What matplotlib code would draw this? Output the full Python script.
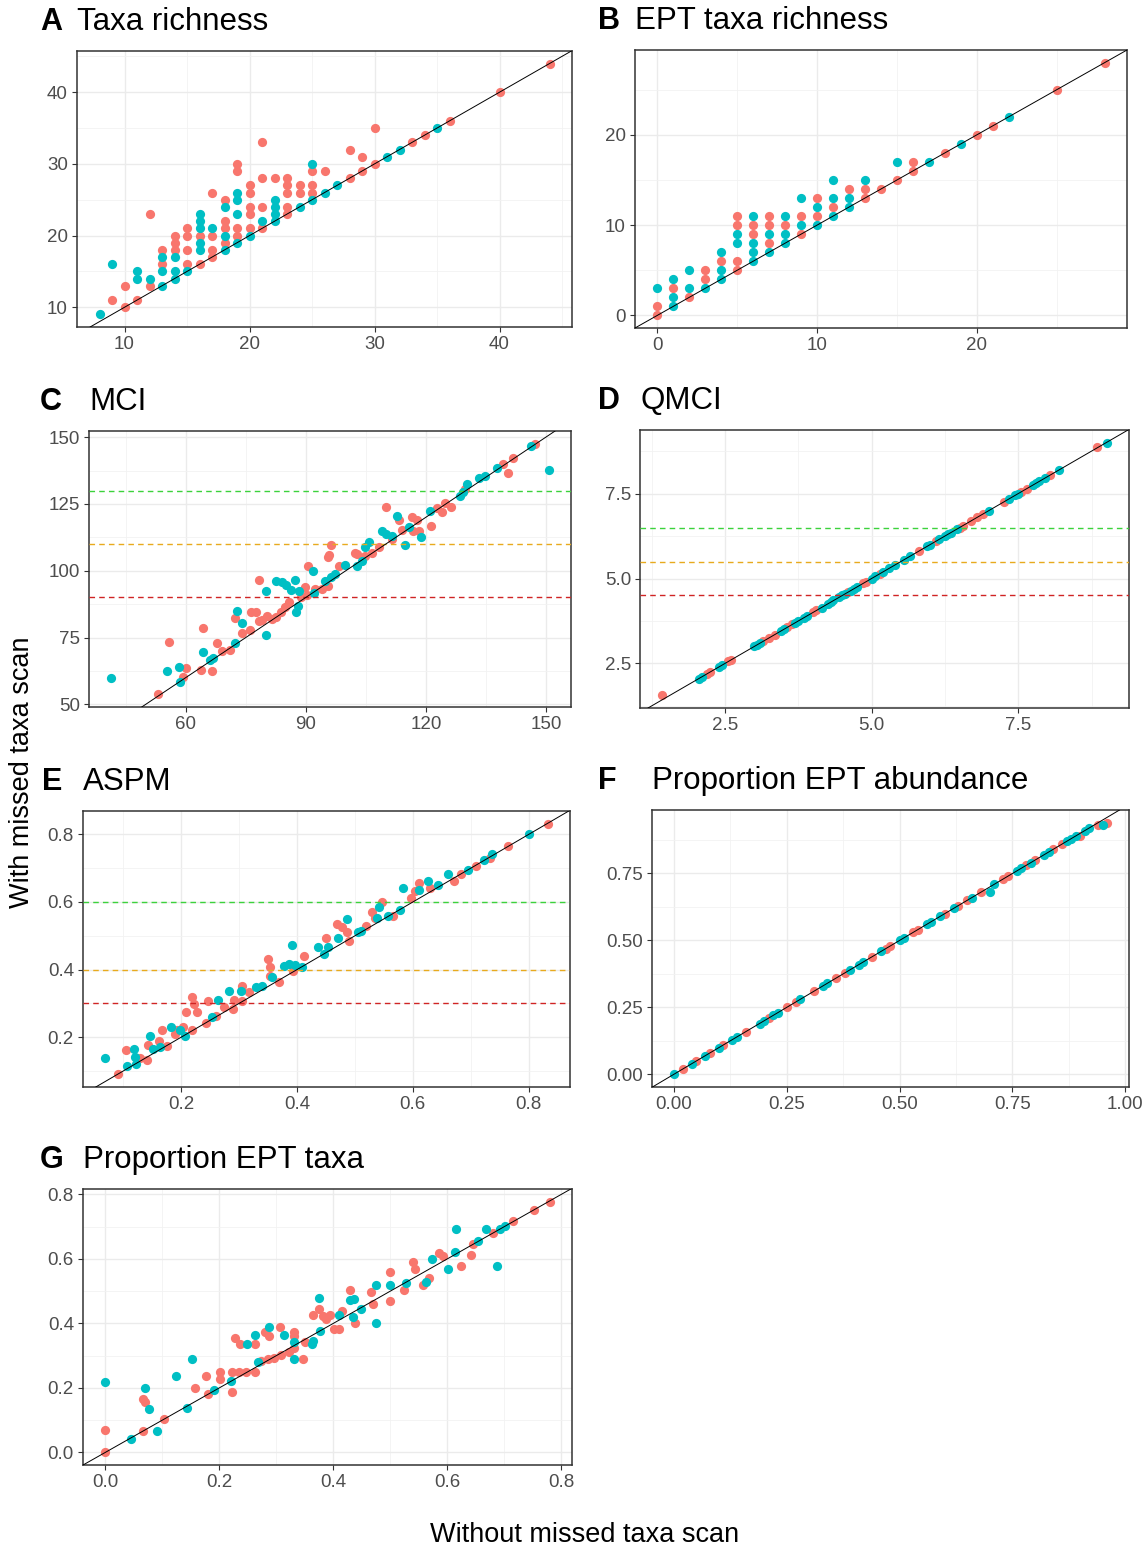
import matplotlib
matplotlib.use("Agg")
import matplotlib.pyplot as plt
from matplotlib.ticker import MultipleLocator, AutoMinorLocator, FormatStrFormatter

plt.rcParams['font.family'] = ['Liberation Sans', 'DejaVu Sans']

W, H = 1143, 1549
SALMON = '#F8766D'
TEAL = '#00BFC4'

# --- A: taxa richness (salmon = group 1, teal = group 2)
a_x1 = [9, 10, 10, 11, 12, 12, 13, 13, 14, 14, 14, 15, 15, 15, 15, 16, 16, 17, 17, 17, 17,
        18, 18, 18, 18, 19, 19, 19, 19, 20, 20, 20, 20, 20, 21, 21, 21, 21, 22, 23, 23, 23,
        23, 23, 24, 24, 25, 25, 25, 26, 28, 28, 29, 29, 30, 30, 33, 34, 36, 40, 44]
a_y1 = [11, 13, 10, 11, 13, 23, 18, 16, 20, 19, 18, 21, 20, 18, 16, 20, 16, 26, 20, 18, 17,
        25, 22, 21, 19, 30, 29, 21, 20, 27, 26, 24, 23, 21, 33, 28, 24, 21, 28, 28, 27, 26,
        24, 23, 27, 26, 29, 27, 26, 29, 32, 28, 31, 29, 35, 30, 33, 34, 36, 40, 44]
a_x2 = [8, 9, 11, 11, 12, 13, 13, 13, 14, 14, 14, 15, 16, 16, 16, 16, 16, 17, 18, 18, 18,
        19, 19, 19, 19, 20, 21, 22, 22, 22, 22, 24, 25, 25, 26, 27, 31, 32, 35]
a_y2 = [9, 16, 15, 14, 14, 17, 15, 13, 17, 15, 14, 15, 23, 22, 21, 19, 18, 21, 24, 20, 18,
        26, 25, 23, 19, 20, 22, 25, 24, 23, 22, 24, 30, 25, 26, 27, 31, 32, 35]

# --- B: EPT taxa richness
b_x1 = [0, 0, 1, 2, 3, 3, 4, 5, 5, 5, 5, 6, 6, 7, 7, 7, 8, 9, 9, 10, 10, 11, 12, 13, 13,
        14, 15, 16, 16, 18, 20, 21, 25, 28]
b_y1 = [1, 0, 3, 2, 5, 4, 6, 11, 10, 6, 5, 10, 9, 11, 10, 8, 10, 11, 9, 13, 11, 12, 14, 14, 13,
        14, 15, 17, 16, 18, 20, 21, 25, 28]
b_x2 = [0, 1, 1, 1, 2, 2, 3, 4, 4, 4, 5, 5, 6, 6, 6, 6, 7, 7, 8, 8, 8, 9, 9, 10, 10, 11, 11,
        11, 12, 12, 13, 15, 17, 19, 22]
b_y2 = [3, 4, 2, 1, 5, 3, 3, 7, 5, 4, 9, 8, 11, 8, 7, 6, 9, 7, 11, 9, 8, 13, 10, 12, 10, 15, 13,
        11, 13, 12, 15, 17, 17, 19, 22]

# --- C: MCI
c_x1 = [53.0, 55.7, 59.2, 60.0, 63.7, 64.4, 66.5, 67.9, 69.1, 71.0, 72.3, 74.0, 76.1, 76.2,
        77.5, 78.3, 78.3, 79.1, 80.4, 81.6, 82.6, 83.7, 84.9, 85.8, 88.7, 89.9, 90.3, 90.6,
        92.4, 94.1, 95.6, 95.7, 95.6, 96.4, 98.4, 102.2, 102.8, 104.9, 106.6, 108.2, 110.0,
        111.5, 113.4, 114.0, 116.5, 117.8, 116.9, 118.2, 121.3, 122.8, 124.0, 124.7, 126.3,
        129.8, 139.4, 140.5, 141.9, 147.3]
c_y1 = [53.7, 73.2, 60.1, 63.5, 62.9, 78.5, 62.4, 72.9, 69.9, 70.5, 82.3, 76.7, 78.0, 84.4,
        84.4, 96.6, 81.1, 81.6, 83.2, 81.9, 82.8, 84.4, 86.3, 88.2, 90.0, 94.1, 91.0, 101.9,
        93.2, 93.2, 94.4, 106.0, 105.0, 109.7, 101.9, 106.8, 106.2, 105.6, 106.8, 108.7, 123.9,
        111.8, 118.9, 115.2, 120.2, 118.9, 114.9, 114.9, 116.8, 123.4, 121.8, 125.5, 123.9,
        130.5, 140.1, 136.5, 142.1, 147.6]
c_x2 = [41.3, 55.2, 58.3, 58.5, 64.3, 66.0, 66.8, 72.2, 72.7, 74.0, 80.0, 80.1, 82.6, 84.1,
        85.1, 86.4, 87.4, 87.6, 88.1, 88.3, 91.8, 92.0, 94.9, 96.2, 97.4, 99.9, 102.8, 104.1,
        104.9, 105.7, 109.0, 110.0, 111.5, 112.9, 114.9, 115.8, 118.8, 121.1, 128.6, 129.4,
        130.2, 133.3, 134.8, 137.7, 146.3, 150.8]
c_y2 = [59.8, 62.4, 64.1, 58.3, 69.5, 66.6, 67.4, 72.9, 85.1, 80.6, 76.0, 92.3, 96.3, 95.6,
        94.6, 92.9, 96.6, 84.4, 86.9, 92.5, 100.0, 91.5, 96.3, 97.5, 98.8, 102.2, 101.6, 103.5,
        108.7, 110.6, 114.9, 113.9, 113.1, 120.3, 109.7, 116.4, 112.5, 122.2, 128.0, 129.3,
        132.6, 134.6, 135.5, 138.6, 146.5, 137.6]
c_lines = [130, 110, 90]

# --- D: QMCI
d_x1 = [1.43, 2.20, 2.25, 2.55, 2.60, 3.15, 3.25, 3.35, 3.55, 3.65, 4.00, 4.05, 4.60, 4.85,
        4.90, 5.15, 5.80, 6.10, 6.50, 6.55, 6.70, 6.80, 6.90, 7.25, 7.55, 7.65, 8.05, 8.85]
d_y1 = [1.56, 2.20, 2.24, 2.56, 2.60, 3.15, 3.26, 3.33, 3.56, 3.65, 4.00, 4.06, 4.60, 4.86,
        4.90, 5.14, 5.80, 6.10, 6.50, 6.56, 6.70, 6.80, 6.90, 7.24, 7.56, 7.64, 8.04, 8.86]
d_x2 = [2.05, 2.10, 2.40, 2.45, 3.00, 3.05, 3.10, 3.45, 3.50, 3.70, 3.75, 3.85, 3.90, 4.15,
        4.25, 4.30, 4.35, 4.45, 4.50, 4.55, 4.65, 4.70, 4.75, 5.00, 5.05, 5.20, 5.30, 5.40,
        5.55, 5.65, 5.95, 6.00, 6.15, 6.25, 6.30, 6.35, 6.45, 7.00, 7.35, 7.45, 7.50, 7.75,
        7.80, 7.85, 7.95, 8.20, 9.01]
d_y2 = [2.04, 2.10, 2.40, 2.46, 3.00, 3.04, 3.10, 3.45, 3.50, 3.70, 3.76, 3.85, 3.90, 4.14,
        4.25, 4.30, 4.36, 4.45, 4.50, 4.55, 4.64, 4.70, 4.75, 5.00, 5.06, 5.20, 5.30, 5.40,
        5.55, 5.65, 5.95, 6.00, 6.15, 6.25, 6.30, 6.35, 6.45, 7.00, 7.35, 7.45, 7.50, 7.76,
        7.80, 7.86, 7.95, 8.20, 9.00]
d_lines = [6.5, 5.5, 4.5]

# --- E: ASPM
e_x1 = [0.091, 0.105, 0.129, 0.141, 0.143, 0.162, 0.167, 0.175, 0.189, 0.193, 0.204, 0.219,
        0.209, 0.219, 0.223, 0.227, 0.243, 0.260, 0.247, 0.274, 0.289, 0.291, 0.306, 0.306,
        0.317, 0.350, 0.353, 0.354, 0.369, 0.394, 0.413, 0.450, 0.469, 0.477, 0.486, 0.489,
        0.520, 0.529, 0.534, 0.546, 0.565, 0.597, 0.603, 0.611, 0.629, 0.671, 0.683, 0.709,
        0.734, 0.764, 0.833]
e_y1 = [0.090, 0.161, 0.139, 0.133, 0.178, 0.190, 0.222, 0.175, 0.210, 0.222, 0.230, 0.220,
        0.276, 0.318, 0.298, 0.276, 0.241, 0.264, 0.308, 0.289, 0.284, 0.310, 0.353, 0.308,
        0.333, 0.431, 0.407, 0.382, 0.362, 0.395, 0.441, 0.493, 0.536, 0.525, 0.510, 0.485,
        0.530, 0.569, 0.554, 0.599, 0.559, 0.613, 0.633, 0.655, 0.641, 0.663, 0.682, 0.707,
        0.731, 0.766, 0.832]
e_x2 = [0.069, 0.106, 0.118, 0.120, 0.123, 0.146, 0.151, 0.163, 0.183, 0.198, 0.206, 0.254,
        0.263, 0.283, 0.303, 0.329, 0.340, 0.357, 0.377, 0.386, 0.391, 0.397, 0.409, 0.437,
        0.446, 0.454, 0.471, 0.487, 0.506, 0.511, 0.539, 0.542, 0.557, 0.577, 0.583, 0.611,
        0.626, 0.643, 0.660, 0.695, 0.723, 0.737, 0.800]
e_y2 = [0.138, 0.116, 0.166, 0.141, 0.121, 0.205, 0.166, 0.170, 0.231, 0.220, 0.205, 0.259,
        0.311, 0.338, 0.338, 0.348, 0.353, 0.377, 0.412, 0.417, 0.474, 0.414, 0.407, 0.466,
        0.446, 0.466, 0.493, 0.549, 0.510, 0.515, 0.554, 0.584, 0.559, 0.576, 0.641, 0.635,
        0.663, 0.650, 0.684, 0.694, 0.724, 0.741, 0.800]
e_lines = [0.6, 0.4, 0.3]

# --- F: proportion EPT abundance
f_x1 = [0.02, 0.05, 0.08, 0.11, 0.16, 0.21, 0.25, 0.27, 0.31, 0.36, 0.38, 0.44, 0.47, 0.48,
        0.53, 0.54, 0.60, 0.63, 0.65, 0.68, 0.73, 0.74, 0.78, 0.80, 0.84, 0.86, 0.90, 0.94, 0.96]
f_y1 = [0.02, 0.05, 0.08, 0.11, 0.16, 0.21, 0.25, 0.27, 0.31, 0.36, 0.38, 0.44, 0.47, 0.48,
        0.53, 0.54, 0.60, 0.63, 0.65, 0.68, 0.73, 0.74, 0.78, 0.80, 0.84, 0.86, 0.89, 0.93, 0.94]
f_x2 = [0.00, 0.04, 0.07, 0.10, 0.13, 0.14, 0.19, 0.20, 0.22, 0.23, 0.28, 0.33, 0.34, 0.39,
        0.41, 0.42, 0.46, 0.50, 0.51, 0.56, 0.57, 0.59, 0.62, 0.66, 0.70, 0.71, 0.76, 0.77,
        0.79, 0.82, 0.83, 0.87, 0.88, 0.89, 0.91, 0.92, 0.95]
f_y2 = [0.00, 0.04, 0.07, 0.10, 0.13, 0.14, 0.19, 0.20, 0.22, 0.23, 0.28, 0.33, 0.34, 0.39,
        0.41, 0.42, 0.46, 0.50, 0.51, 0.56, 0.57, 0.59, 0.62, 0.66, 0.68, 0.71, 0.76, 0.77,
        0.79, 0.82, 0.83, 0.87, 0.88, 0.89, 0.91, 0.92, 0.93]

# --- G: proportion EPT taxa
g_x1 = [0.000, 0.000, 0.066, 0.066, 0.069, 0.103, 0.158, 0.176, 0.180, 0.201, 0.201, 0.222,
        0.222, 0.228, 0.236, 0.235, 0.247, 0.262, 0.262, 0.274, 0.281, 0.287, 0.285, 0.297,
        0.306, 0.309, 0.323, 0.332, 0.332, 0.332, 0.347, 0.351, 0.365, 0.375, 0.382, 0.388,
        0.394, 0.401, 0.411, 0.416, 0.430, 0.439, 0.467, 0.470, 0.499, 0.499, 0.525, 0.540,
        0.543, 0.557, 0.568, 0.585, 0.592, 0.625, 0.642, 0.645, 0.680, 0.715, 0.753, 0.780]
g_y1 = [0.000, 0.070, 0.065, 0.165, 0.155, 0.103, 0.199, 0.238, 0.181, 0.248, 0.229, 0.186,
        0.248, 0.356, 0.336, 0.248, 0.250, 0.336, 0.250, 0.284, 0.374, 0.360, 0.289, 0.294,
        0.389, 0.302, 0.310, 0.372, 0.360, 0.325, 0.289, 0.341, 0.426, 0.444, 0.424, 0.415,
        0.426, 0.384, 0.384, 0.439, 0.503, 0.400, 0.496, 0.460, 0.558, 0.470, 0.503, 0.589,
        0.568, 0.519, 0.542, 0.620, 0.610, 0.579, 0.612, 0.646, 0.680, 0.718, 0.751, 0.778]
g_x2 = [0.000, 0.046, 0.070, 0.076, 0.091, 0.125, 0.143, 0.153, 0.190, 0.221, 0.249, 0.262,
        0.268, 0.287, 0.313, 0.332, 0.332, 0.363, 0.364, 0.375, 0.377, 0.410, 0.430, 0.437,
        0.435, 0.449, 0.475, 0.475, 0.499, 0.528, 0.563, 0.574, 0.601, 0.613, 0.616, 0.654,
        0.668, 0.687, 0.692, 0.701]
g_y2 = [0.217, 0.043, 0.199, 0.134, 0.065, 0.238, 0.139, 0.291, 0.194, 0.222, 0.336, 0.364,
        0.281, 0.390, 0.364, 0.291, 0.341, 0.336, 0.346, 0.480, 0.377, 0.426, 0.472, 0.477,
        0.421, 0.446, 0.519, 0.400, 0.519, 0.525, 0.527, 0.599, 0.568, 0.622, 0.692, 0.656,
        0.692, 0.579, 0.692, 0.702]

LINE_COLS = ['#3CD23C', '#E8AA1E', '#D02424']


def px_axes(fig, left, top, right, bottom):
    return fig.add_axes([left / W, 1 - bottom / H, (right - left) / W, (bottom - top) / H])


def panel(fig, box, letter, letter_x, title, x1, y1, x2, y2, xmajor, ymajor, fmt, hlines=None):
    ax = px_axes(fig, *box)
    ax.scatter(x1, y1, s=44, color=SALMON, linewidths=0, zorder=2)
    ax.scatter(x2, y2, s=44, color=TEAL, linewidths=0, zorder=2)
    # freeze the data-driven limits before adding the 1:1 line
    ax.autoscale_view()
    xl, yl = ax.get_xlim(), ax.get_ylim()
    ax.axline((0, 0), slope=1, color='black', lw=0.7, zorder=4)
    if hlines:
        for val, col in zip(hlines, LINE_COLS):
            ax.axhline(val, color=col, lw=1.0, dashes=(4, 3), zorder=3)
    ax.set_xlim(xl)
    ax.set_ylim(yl)
    for axis, major in ((ax.xaxis, xmajor), (ax.yaxis, ymajor)):
        axis.set_major_locator(MultipleLocator(major))
        axis.set_minor_locator(AutoMinorLocator(2))
        axis.set_major_formatter(FormatStrFormatter(fmt))
    ax.grid(which='major', color='#EBEBEB', lw=1.0, zorder=0)
    ax.grid(which='minor', color='#F2F2F2', lw=0.6, zorder=0)
    ax.set_axisbelow(True)
    ax.tick_params(which='major', length=3.5, width=0.8, color='#333333',
                   labelsize=13.5, labelcolor='#4D4D4D', pad=3)
    ax.tick_params(which='minor', length=0)
    for sp in ax.spines.values():
        sp.set_color('#333333')
        sp.set_linewidth(1.1)
    # panel letter + title, title aligned to the panel's left edge
    ty = box[1] - 29
    fig.text(letter_x / W, 1 - ty / H, letter, fontsize=22, fontweight='bold',
             ha='left', va='center')
    fig.text(box[0] / W, 1 - ty / H, title, fontsize=22.5, ha='left', va='center')
    return ax


fig = plt.figure(figsize=(W / 100, H / 100), dpi=100)

panel(fig, (77, 51, 572, 327), 'A', 40, 'Taxa richness', a_x1, a_y1, a_x2, a_y2, 10, 10, '%d')
panel(fig, (635, 50, 1127, 328), 'B', 598, 'EPT taxa richness', b_x1, b_y1, b_x2, b_y2,
      10, 10, '%d')
panel(fig, (89, 431, 571, 707), 'C', 40, 'MCI', c_x1, c_y1, c_x2, c_y2, 30, 25, '%d', c_lines)
panel(fig, (640, 430, 1129, 708), 'D', 598, 'QMCI', d_x1, d_y1, d_x2, d_y2, 2.5, 2.5, '%.1f',
      d_lines)
panel(fig, (83, 811, 570, 1087), 'E', 42, 'ASPM', e_x1, e_y1, e_x2, e_y2, 0.2, 0.2, '%.1f',
      e_lines)
panel(fig, (652, 810, 1129, 1087), 'F', 598, 'Proportion EPT abundance',
      f_x1, f_y1, f_x2, f_y2, 0.25, 0.25, '%.2f')
panel(fig, (83, 1189, 572, 1465), 'G', 40, 'Proportion EPT taxa', g_x1, g_y1, g_x2, g_y2,
      0.2, 0.2, '%.1f')

fig.text(585 / W, 1 - 1535 / H, 'Without missed taxa scan', fontsize=19.5, ha='center',
         va='center')
fig.text(22 / W, 1 - 772 / H, 'With missed taxa scan', fontsize=19.5, rotation=90,
         ha='center', va='center')

fig.savefig('out.png', dpi=100)
